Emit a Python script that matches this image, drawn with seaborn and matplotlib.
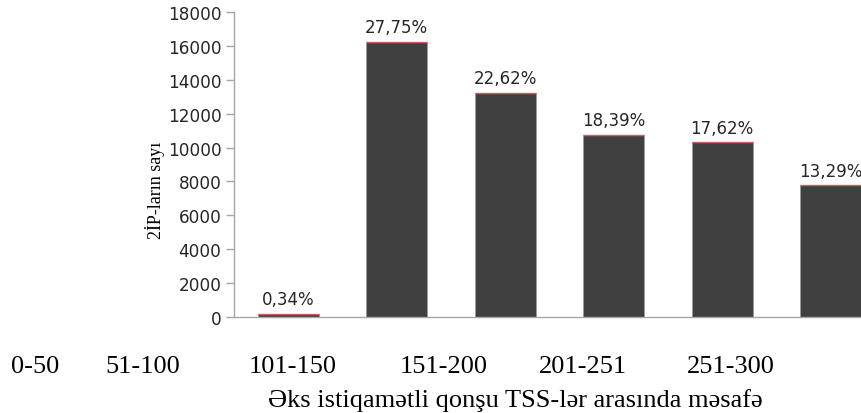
import matplotlib
matplotlib.use("Agg")
import matplotlib.pyplot as plt
import seaborn as sns
import pandas as pd

# Distance bins between neighbouring opposite-strand TSS pairs
categories = ["0-50", "51-100", "101-150", "151-200", "201-251", "251-300"]
counts = [199, 16240, 13237, 10762, 10311, 7777]
percents = [0.34, 27.75, 22.62, 18.39, 17.62, 13.29]
yticks = [0, 2000, 4000, 6000, 8000, 10000, 12000, 14000, 16000, 18000]

df = pd.DataFrame({"bin": categories, "count": counts})

sns.set_theme(style="white")
plt.rcParams["font.family"] = ["DejaVu Sans"]

W, H = 861, 414
fig = plt.figure(figsize=(W / 100, H / 100), dpi=100)
ax = fig.add_axes([234 / W, (H - 318) / H, 1 - 234 / W, (318 - 13) / H])

sns.barplot(data=df, x="bin", y="count", color="#404040", saturation=1,
            width=0.56, edgecolor="#9a9a9a", linewidth=0.6, ax=ax)

# thin red cap on each bar
xs = range(len(categories))
ax.hlines(counts, [x - 0.28 for x in xs], [x + 0.28 for x in xs],
          color="#d06060", linewidth=1.0, zorder=3)

labels = [f"{p:.2f}%".replace(".", ",") for p in percents]
ax.bar_label(ax.containers[0], labels=labels, padding=4,
             fontsize=12, color="#262626", clip_on=False)

ax.set_xlim(-0.5, 5.28)
ax.set_ylim(0, 18000)
ax.set_yticks(yticks)
ax.set_yticklabels([str(t) for t in yticks], fontsize=12.2, color="#262626")
ax.set_xticks([])
ax.set_xlabel("")
ax.set_ylabel("")

for side in ["top", "right"]:
    ax.spines[side].set_visible(False)
for side in ["left", "bottom"]:
    ax.spines[side].set_color("#a6a6a6")
    ax.spines[side].set_linewidth(1.0)
ax.tick_params(axis="y", direction="out", length=6, width=1,
               color="#a6a6a6", pad=3, left=True)

serif = ["Liberation Serif", "DejaVu Serif"]

# row of bin labels under the plot
label_x = [35, 143, 293, 444, 583, 731]
for lx, txt in zip(label_x, categories):
    fig.text(lx / W, 1 - 367 / H, txt, ha="center", va="center",
             fontsize=19, family=serif, color="black")

fig.text(515 / W, 1 - 401 / H, "Əks istiqamətli qonşu TSS-lər arasında məsafə",
         ha="center", va="center", fontsize=19, family=serif, color="black")

fig.text(155 / W, 1 - 190 / H, "2İP-ların sayı", rotation=90,
         ha="center", va="center", fontsize=13, family=serif, color="black")

fig.savefig("out.png", dpi=100)
